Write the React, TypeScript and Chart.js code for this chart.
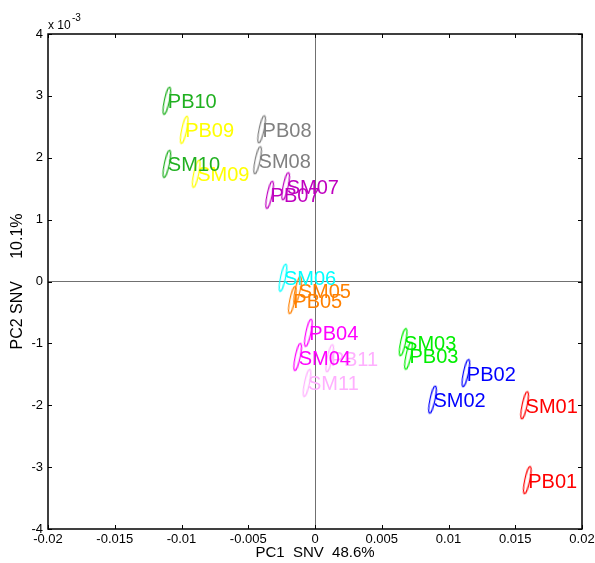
import { useEffect, useRef } from "react";
import { Chart, registerables } from "chart.js";

Chart.register(...registerables);

// sample names, PC1 scores, PC2 scores (x 10^-3) and colours
const sampleNames = [
  "PB01", "PB02", "PB03", "PB04", "PB05", "PB07", "PB08", "PB09", "PB10", "PB11",
  "SM01", "SM02", "SM03", "SM04", "SM05", "SM06", "SM07", "SM08", "SM09", "SM10", "SM11",
];
const pc1Scores = [
  0.0159, 0.0113, 0.0070, -0.0005, -0.0017, -0.0034, -0.0040, -0.0098, -0.0111, 0.0011,
  0.0157, 0.0088, 0.0066, -0.0013, -0.0013, -0.0024, -0.0022, -0.0043, -0.0089, -0.0111, -0.0006,
];
const pc2Scores = [
  -3.21, -1.48, -1.20, -0.83, -0.30, 1.40, 2.46, 2.45, 2.92, -1.24,
  -2.00, -1.91, -0.98, -1.22, -0.14, 0.06, 1.54, 1.96, 1.74, 1.90, -1.64,
];
const sampleColors = [
  "#ff0000", "#0000ff", "#00ee00", "#ff00ff", "#ff8000", "#bf00bf", "#808080", "#ffff00", "#20b020", "#ffb0ff",
  "#ff0000", "#0000ff", "#00ee00", "#ff00ff", "#ff8000", "#00ffff", "#bf00bf", "#808080", "#ffff00", "#20b020", "#ffb0ff",
];

const xTitle = "PC1  SNV  48.6%";
const yTitle = "PC2 SNV     10.1%";
const FONT = '"Liberation Sans", Arial, sans-serif';

function makeEllipse(color: string): HTMLCanvasElement {
  const c = document.createElement("canvas");
  c.width = 12;
  c.height = 34;
  const g = c.getContext("2d")!;
  g.strokeStyle = color;
  g.lineWidth = 1.2;
  g.beginPath();
  g.ellipse(6, 17, 2.5, 14, 0, 0, Math.PI * 2);
  g.stroke();
  return c;
}

const labelPlugin = {
  id: "sampleLabels",
  afterDatasetsDraw(chart: any) {
    const ctx = chart.ctx;
    const meta = chart.getDatasetMeta(0);
    ctx.save();
    ctx.font = `20px ${FONT}`;
    ctx.textAlign = "left";
    ctx.textBaseline = "middle";
    meta.data.forEach((el: any, i: number) => {
      ctx.fillStyle = sampleColors[i];
      ctx.fillText(sampleNames[i], el.x + 1, el.y + 2);
    });
    ctx.restore();
  },
};

const framePlugin = {
  id: "matlabFrame",
  afterDraw(chart: any) {
    const ctx = chart.ctx;
    const { left, right, top, bottom } = chart.chartArea;
    const xs = chart.scales.x;
    const ys = chart.scales.y;
    ctx.save();
    ctx.strokeStyle = "#000";
    ctx.lineWidth = 1;
    const tl = 4;
    ctx.beginPath();
    xs.ticks.forEach((t: any) => {
      const px = Math.round(xs.getPixelForValue(t.value)) + 0.5;
      ctx.moveTo(px, bottom);
      ctx.lineTo(px, bottom - tl);
      ctx.moveTo(px, top);
      ctx.lineTo(px, top + tl);
    });
    ys.ticks.forEach((t: any) => {
      const py = Math.round(ys.getPixelForValue(t.value)) + 0.5;
      ctx.moveTo(left, py);
      ctx.lineTo(left + tl, py);
      ctx.moveTo(right, py);
      ctx.lineTo(right - tl, py);
    });
    ctx.stroke();
    ctx.lineWidth = 1.5;
    ctx.strokeRect(left, top, right - left, bottom - top);
    // exponent label
    ctx.fillStyle = "#000";
    ctx.textBaseline = "alphabetic";
    ctx.textAlign = "left";
    ctx.font = `12px ${FONT}`;
    ctx.fillText("x 10", left, top - 5);
    ctx.font = `10px ${FONT}`;
    ctx.fillText("-3", left + 24, top - 13);
    ctx.restore();
  },
};

export default function App() {
  const ref = useRef<HTMLCanvasElement | null>(null);
  useEffect(() => {
    document.body.style.margin = "0";
    const styles = sampleColors.map((c) => makeEllipse(c));
    const chart = new Chart(ref.current!, {
      type: "scatter",
      data: {
        datasets: [
          {
            data: pc1Scores.map((x, i) => ({ x, y: pc2Scores[i] })),
            pointStyle: styles as any,
            pointRotation: 12,
            pointRadius: 10,
          },
        ],
      },
      options: {
        animation: false,
        responsive: false,
        events: [],
        layout: { padding: { left: 0, right: 13, top: 34, bottom: 0 } },
        plugins: { legend: { display: false }, tooltip: { enabled: false } },
        scales: {
          x: {
            type: "linear",
            min: -0.02,
            max: 0.02,
            afterFit: (s: any) => {
              s.height = 34;
              s.paddingLeft = 0;
              s.paddingRight = 0;
            },
            ticks: {
              stepSize: 0.005,
              autoSkip: false,
              maxRotation: 0,
              padding: 3,
              color: "#000",
              font: { family: FONT, size: 13 },
              callback: (v: any) => String(Number(Number(v).toFixed(4))),
            },
            grid: {
              drawTicks: false,
              color: (c: any) => (c.tick && Math.abs(c.tick.value) < 1e-9 ? "#707070" : "rgba(0,0,0,0)"),
            },
            border: { display: false },
            title: {
              display: true,
              text: xTitle,
              color: "#000",
              font: { family: FONT, size: 15 },
              padding: { top: 0, bottom: 1 },
            },
          },
          y: {
            type: "linear",
            min: -4,
            max: 4,
            afterFit: (s: any) => {
              s.width = 48;
              s.paddingTop = 0;
              s.paddingBottom = 0;
            },
            ticks: {
              stepSize: 1,
              padding: 5,
              color: "#000",
              font: { family: FONT, size: 13 },
            },
            grid: {
              drawTicks: false,
              color: (c: any) => (c.tick && Math.abs(c.tick.value) < 1e-9 ? "#707070" : "rgba(0,0,0,0)"),
            },
            border: { display: false },
            title: {
              display: true,
              text: yTitle,
              color: "#000",
              font: { family: FONT, size: 16 },
              padding: { top: 8, bottom: 0 },
            },
          },
        },
      },
      plugins: [labelPlugin, framePlugin],
    });
    return () => chart.destroy();
  }, []);
  return (
    <div style={{ width: 595, height: 563 }}>
      <canvas ref={ref} width={595} height={563} />
    </div>
  );
}
